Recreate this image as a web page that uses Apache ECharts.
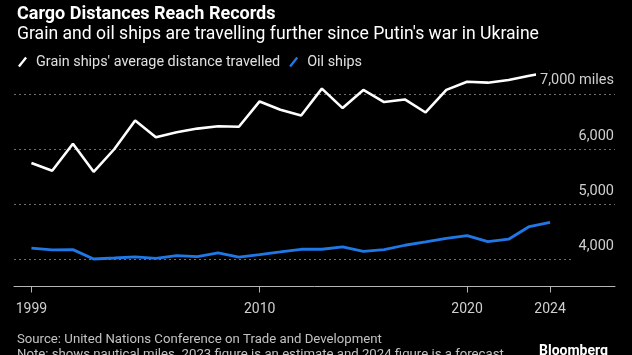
<!DOCTYPE html>
<html>
<head>
<meta charset="utf-8">
<script src="https://cdn.jsdelivr.net/npm/echarts@6/dist/echarts.min.js"></script>
<style>
html,body{margin:0;padding:0;background:#000;}
#c{width:632px;height:355px;}
</style>
</head>
<body>
<div id="c"></div>
<script>
var years = [1999,2000,2001,2002,2003,2004,2005,2006,2007,2008,2009,2010,2011,2012,2013,2014,2015,2016,2017,2018,2019,2020,2021,2022,2023,2024];
var grainShips = [5744,5603,6097,5585,6000,6517,6212,6303,6371,6413,6405,6865,6713,6609,7097,6744,7073,6854,6901,6664,7075,7224,7206,7255,7333,7400];
var oilShips = [4196,4165,4170,4000,4018,4037,4012,4061,4042,4110,4035,4080,4128,4177,4177,4220,4140,4170,4250,4310,4373,4426,4316,4360,4590,4664];
var xTicks = [1999,2010,2020,2024];
var yTicks = [4000,5000,6000,7000];
var seriesNames = ["Grain ships' average distance travelled", "Oil ships"];

var FONT = 'Roboto';
function pairs(vals){ return years.map(function(y,i){ return [y, vals[i]]; }); }

var chart = echarts.init(document.getElementById('c'), null, {renderer:'canvas'});
var gridStyle = {color:'#6e6e6e', type:[2,3], width:1};
chart.setOption({
  backgroundColor:'#000',
  animation:false,
  textStyle:{fontFamily:FONT},
  title:[
    {text:'Cargo Distances Reach Records', left:12, top:0, textStyle:{color:'#fff', fontSize:18, fontWeight:'bold', fontFamily:FONT}},
    {text:"Grain and oil ships are travelling further since Putin's war in Ukraine", left:12, top:21, textStyle:{color:'#fff', fontSize:17.6, fontWeight:'normal', fontFamily:FONT}},
    {text:'Source: United Nations Conference on Trade and Development', left:12, top:328, textStyle:{color:'#c2c2c2', fontSize:13.2, fontWeight:'normal', fontFamily:FONT}},
    {text:'Note: shows nautical miles. 2023 figure is an estimate and 2024 figure is a forecast', left:12, top:343, textStyle:{color:'#c2c2c2', fontSize:13.2, fontWeight:'normal', fontFamily:FONT}},
    {text:'Bloomberg', right:19, top:339, textStyle:{color:'#fff', fontSize:14, fontWeight:'bold', fontFamily:FONT}}
  ],
  legend:{
    left:13, top:50, itemWidth:9, itemHeight:11, itemGap:9,
    icon:'path://M0,10 L8,0 L10,1.5 L2,11.5 Z',
    textStyle:{color:'#e0e0e0', fontSize:14.4, fontFamily:FONT, padding:[0,0,0,4]},
    data:seriesNames
  },
  grid:{left:14, right:17, top:66.5, bottom:68.5, containLabel:false},
  xAxis:{
    type:'value', min:1998.16, max:2027.13,
    axisLine:{show:true, lineStyle:{color:'#b5b5b5', width:1}},
    axisTick:{show:true, customValues:xTicks, length:6, lineStyle:{color:'#b5b5b5'}},
    axisLabel:{show:true, customValues:xTicks, color:'#cfcfcf', fontSize:14, margin:16, fontFamily:FONT, formatter:function(v){return String(v);}},
    splitLine:{show:false}
  },
  yAxis:{
    type:'value', min:3500, max:7500, position:'right', z:10,
    axisLine:{show:false}, axisTick:{show:false}, splitLine:{show:false},
    axisLabel:{
      show:true, inside:true, customValues:yTicks, margin:1, color:'#cfcfcf', fontSize:14.5, fontFamily:FONT,
      verticalAlign:'bottom', padding:[0,0,5,0],
      formatter:function(v){
        var s = echarts.format.addCommas(v);
        return v === 7000 ? '{hl|' + s + ' miles}' : s;
      },
      rich:{hl:{color:'#cfcfcf', fontSize:14.5, fontFamily:FONT, backgroundColor:'#000', padding:[2,0,1,4]}}
    }
  },
  series:[
    {
      name:seriesNames[0], type:'line', data:pairs(grainShips), symbol:'none', z:3,
      lineStyle:{color:'#ffffff', width:2.6}, itemStyle:{color:'#ffffff'},
      markLine:{
        silent:true, symbol:'none', label:{show:false}, z:1,
        lineStyle:gridStyle,
        data:[
          [{coord:[1998.16, yTicks[0]]},{coord:[2025.15, yTicks[0]]}],
          {yAxis:yTicks[1]},{yAxis:yTicks[2]},{yAxis:yTicks[3]}
        ]
      }
    },
    {
      name:seriesNames[1], type:'line', data:pairs(oilShips), symbol:'none', z:3,
      lineStyle:{color:'#1f78e6', width:2.8}, itemStyle:{color:'#1f78e6'}
    }
  ]
});
</script>
</body>
</html>
